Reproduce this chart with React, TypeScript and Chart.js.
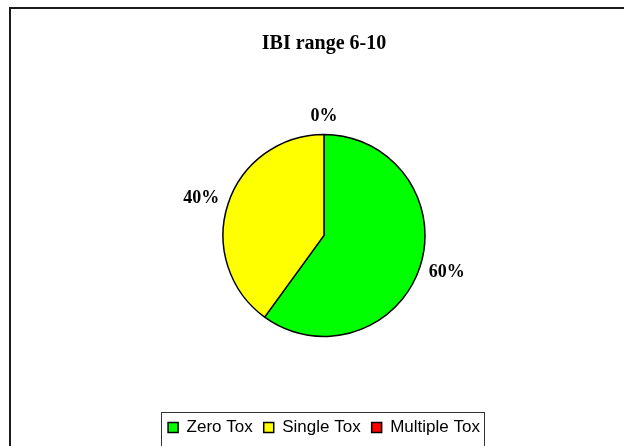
import React, { useEffect, useRef } from "react";
import { Chart, registerables } from "chart.js";

Chart.register(...registerables);

const chartTitle = "IBI range 6-10";
const categories = ["Zero Tox", "Single Tox", "Multiple Tox"];
const values = [60, 40, 0];
const sliceColors = ["#00FF00", "#FFFF00", "#FF0000"];

const SERIF = "'Liberation Serif', 'Times New Roman', serif";
const SANS = "'Liberation Sans', Arial, sans-serif";

const framePlugin = {
  id: "frame",
  beforeDraw(chart: any) {
    const ctx = chart.ctx;
    ctx.save();
    ctx.fillStyle = "#ffffff";
    ctx.fillRect(0, 0, chart.width, chart.height);
    ctx.strokeStyle = "#1a1a1a";
    ctx.lineWidth = 2;
    ctx.strokeRect(10, 8, chart.width + 40, chart.height + 40);
    ctx.restore();
  },
};

const legendBoxPlugin = {
  id: "legendBox",
  afterDraw(chart: any) {
    const lg = chart.legend;
    if (!lg || !lg.legendHitBoxes || !lg.legendHitBoxes.length) return;
    const hb = lg.legendHitBoxes;
    const left = Math.min(...hb.map((h: any) => h.left)) - 7;
    const right = Math.max(...hb.map((h: any) => h.left + h.width)) + 4;
    const cy = hb[0].top + hb[0].height / 2;
    const ctx = chart.ctx;
    ctx.save();
    ctx.strokeStyle = "#333333";
    ctx.lineWidth = 1;
    ctx.strokeRect(Math.round(left) + 0.5, Math.round(cy - 16) + 0.5, Math.round(right - left), 34);
    ctx.restore();
  },
};

const pctLabelPlugin = {
  id: "pctLabels",
  afterDatasetsDraw(chart: any) {
    const meta = chart.getDatasetMeta(0);
    const data = chart.data.datasets[0].data as number[];
    const total = data.reduce((a, b) => a + b, 0);
    const ctx = chart.ctx;
    ctx.save();
    ctx.font = `bold 18px ${SERIF}`;
    ctx.fillStyle = "#000";
    ctx.textAlign = "center";
    ctx.textBaseline = "middle";
    meta.data.forEach((arc: any, i: number) => {
      const p = arc.getProps(["x", "y", "startAngle", "endAngle", "outerRadius"], true);
      const mid = (p.startAngle + p.endAngle) / 2;
      const text = Math.round((data[i] / total) * 100) + "%";
      const w = ctx.measureText(text).width;
      const h = 13;
      const c = Math.cos(mid);
      const s = Math.sin(mid);
      const px = p.x + (p.outerRadius + 10) * c + (w / 2) * c;
      const py = p.y + (p.outerRadius + 10) * s + (h / 2 + 2) * s;
      ctx.fillText(text, px, py);
    });
    ctx.restore();
  },
};

export default function App() {
  const ref = useRef<HTMLCanvasElement | null>(null);

  useEffect(() => {
    if (!ref.current) return;
    const chart = new Chart(ref.current, {
      type: "pie",
      data: {
        labels: categories,
        datasets: [
          {
            data: values,
            backgroundColor: sliceColors,
            borderColor: "#000000",
            borderWidth: 1.5,
          },
        ],
      },
      options: {
        responsive: false,
        animation: false,
        radius: 101,
        layout: { padding: { left: 24, right: 0, top: 0, bottom: 0 } },
        plugins: {
          title: {
            display: true,
            text: chartTitle,
            color: "#000",
            font: { family: SERIF, size: 20, weight: "bold" },
            padding: { top: 32, bottom: 6.8 },
          },
          legend: {
            position: "bottom",
            labels: {
              color: "#000",
              font: { family: SANS, size: 17 },
              boxWidth: 10,
              boxHeight: 10,
              padding: 11,
            },
          },
          tooltip: { enabled: false },
        },
      } as any,
      plugins: [framePlugin, pctLabelPlugin, legendBoxPlugin],
    });
    return () => chart.destroy();
  }, []);

  return (
    <div style={{ position: "fixed", left: 0, top: 0, width: 624, height: 446 }}>
      <canvas ref={ref} width={624} height={446} />
    </div>
  );
}
